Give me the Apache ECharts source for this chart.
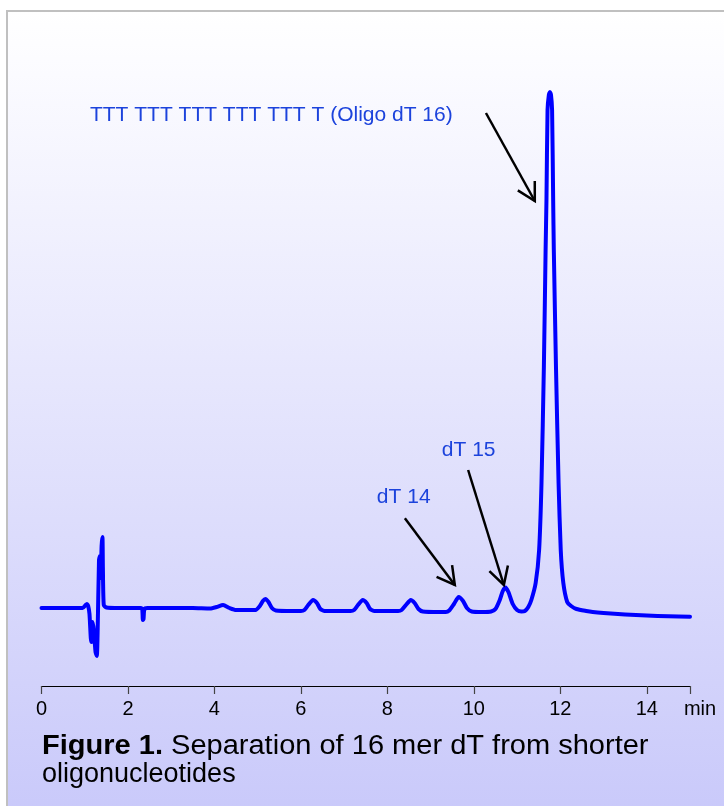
<!DOCTYPE html>
<html>
<head>
<meta charset="utf-8">
<script src="https://cdn.jsdelivr.net/npm/echarts@6/dist/echarts.min.js"></script>
<style>
html,body{margin:0;padding:0;background:#fff;}
#c{width:724px;height:806px;}
</style>
</head>
<body>
<div id="c"></div>
<script>
// Chromatogram trace: [time (min), detector signal (arbitrary units)]
var trace = [
  [0.0, 0], [0.5, 0], [0.95, 0], [1.02, 3], [1.05, 4], [1.08, 2], [1.11, -6],
  [1.14, -30], [1.16, -34], [1.18, -14], [1.21, -22], [1.25, -44], [1.28, -48],
  [1.30, -20], [1.33, 48], [1.35, 52], [1.37, 30], [1.39, 62], [1.41, 71],
  [1.42, 40], [1.44, 3], [1.5, 0.5], [1.8, 0], [2.3, 0], [2.33, -1], [2.345, -12],
  [2.36, -11], [2.38, -1], [2.45, 0], [3.0, 0], [3.5, 0], [3.9, -0.5], [4.05, 1],
  [4.2, 3], [4.35, 0], [4.5, -2], [4.9, -2],
  [4.95, -2], [5.05, 2], [5.12, 7], [5.18, 9], [5.25, 6], [5.33, 0], [5.42, -2.5],
  [5.8, -3], [6.0, -3],
  [6.08, -2], [6.17, 3], [6.28, 8], [6.37, 5], [6.45, -1], [6.55, -3], [7.0, -3], [7.15, -3],
  [7.23, -2], [7.32, 3], [7.43, 8], [7.52, 5], [7.6, -1], [7.7, -3], [8.1, -3], [8.25, -3],
  [8.33, -2], [8.43, 3], [8.54, 8], [8.63, 5], [8.72, -1], [8.82, -3.5], [9.2, -4], [9.35, -4],
  [9.43, -2.5], [9.54, 4], [9.65, 11], [9.75, 7], [9.84, 0], [9.95, -3.5], [10.2, -4], [10.4, -3.5],
  [10.5, -1], [10.6, 8], [10.67, 17], [10.73, 20.5], [10.8, 16], [10.9, 4], [11.0, -2],
  [11.1, -3.5], [11.18, -3], [11.26, 1],
  [11.33, 8], [11.43, 25], [11.51, 58], [11.565, 125], [11.62, 241], [11.66, 358],
  [11.68, 408], [11.705, 498], [11.735, 513], [11.76, 516], [11.785, 513], [11.81, 498],
  [11.835, 408], [11.85, 358], [11.90, 241], [11.96, 125], [12.01, 58], [12.07, 25],
  [12.16, 6], [12.25, 2], [12.375, -1], [12.6, -3], [12.75, -4], [13.0, -5],
  [13.5, -6.5], [14.0, -7.5], [14.5, -8.3], [15.0, -8.8]
];

// x axis ticks (min)
var xTicks = [0, 2, 4, 6, 8, 10, 12, 14];
var xUnit = 'min';

// Peak annotations: label, label anchor [t, v], arrow start [t, v], arrow tip [t, v]
var annoLabels = ['TTT TTT TTT TTT TTT T (Oligo dT 16)', 'dT 14', 'dT 15'];
var annoLabelPos = [[1.12, 493], [7.757, 111], [9.26, 158]];
var annoArrowFrom = [[10.28, 495], [8.405, 89.7], [9.868, 138]];
var annoArrowTo = [[11.41, 407], [9.56, 23], [10.694, 23]];

var captionBold = 'Figure 1.';
var captionRest = ' Separation of 16 mer dT from shorter';
var captionLine2 = 'oligonucleotides';

var FONT = '"Liberation Sans", Arial, Helvetica, sans-serif';

var chart = echarts.init(document.getElementById('c'), null, {renderer: 'canvas'});

var option = {
  backgroundColor: '#ffffff',
  animation: false,
  grid: {left: 41.5, right: 34, top: 30, bottom: 120, containLabel: false},
  xAxis: {
    type: 'value', min: 0, max: 15, interval: 1,
    axisLine: {show: true, onZero: false, lineStyle: {color: '#000', width: 1.2}},
    axisTick: {show: true, inside: false, length: 8, lineStyle: {color: '#444', width: 1.2},
      customValues: xTicks.concat([15])},
    axisLabel: {
      show: true, margin: 13, fontSize: 20, color: '#000', fontFamily: FONT,
      customValues: xTicks.concat([15]),
      formatter: function (v) { return v === 15 ? '{m|' + xUnit + '}' : String(v); },
      rich: {m: {fontSize: 20, fontFamily: FONT, color: '#000', padding: [0, 0, 0, 20]}}
    },
    splitLine: {show: false}
  },
  yAxis: {
    type: 'value', min: -78, max: 578, show: false,
    splitLine: {show: false}
  },
  series: [{
    type: 'line',
    data: trace,
    showSymbol: false,
    smooth: 0.2,
    lineStyle: {color: '#0000ff', width: 4, cap: 'round', join: 'round'},
    z: 3
  }]
};
chart.setOption(option);

function buildGraphics() {
  var g = [];
  g.push({
    type: 'rect', z: -10, silent: true,
    shape: {x: 7, y: 11, width: 760, height: 820},
    style: {
      fill: new echarts.graphic.LinearGradient(0, 0, 0, 1, [
        {offset: 0, color: '#ffffff'},
        {offset: 0.06, color: '#fcfcff'},
        {offset: 1, color: '#c8c8fa'}
      ]),
      stroke: '#c0c0c0', lineWidth: 2
    }
  });
  var L = 20, ang = 29 * Math.PI / 180;
  for (var i = 0; i < annoLabels.length; i++) {
    var lp = chart.convertToPixel({gridIndex: 0}, annoLabelPos[i]);
    var a = chart.convertToPixel({gridIndex: 0}, annoArrowFrom[i]);
    var b = chart.convertToPixel({gridIndex: 0}, annoArrowTo[i]);
    g.push({
      type: 'text', z: 10, x: lp[0], y: lp[1],
      style: {text: annoLabels[i], fill: '#1c43dc', fontSize: 21, fontFamily: FONT,
        align: 'left', verticalAlign: 'middle'}
    });
    var dx = a[0] - b[0], dy = a[1] - b[1];
    var len = Math.sqrt(dx * dx + dy * dy);
    var ux = dx / len, uy = dy / len;
    var r1 = [b[0] + L * (ux * Math.cos(ang) - uy * Math.sin(ang)), b[1] + L * (ux * Math.sin(ang) + uy * Math.cos(ang))];
    var r2 = [b[0] + L * (ux * Math.cos(-ang) - uy * Math.sin(-ang)), b[1] + L * (ux * Math.sin(-ang) + uy * Math.cos(-ang))];
    g.push({
      type: 'polyline', z: 10, shape: {points: [a, b]},
      style: {stroke: '#000', lineWidth: 2.5, fill: null}
    });
    g.push({
      type: 'polyline', z: 10, shape: {points: [r1, b, r2]},
      style: {stroke: '#000', lineWidth: 2.5, fill: null, lineJoin: 'miter'}
    });
  }
  g.push({
    type: 'text', z: 10, x: 42, y: 747, scaleX: 1.075,
    style: {
      text: '{b|' + captionBold + '}{r|' + captionRest + '}',
      verticalAlign: 'middle', align: 'left',
      rich: {
        b: {fontSize: 27, fontWeight: 'bold', fontFamily: FONT, fill: '#000', color: '#000'},
        r: {fontSize: 27, fontFamily: FONT, fill: '#000', color: '#000'}
      }
    }
  });
  g.push({
    type: 'text', z: 10, x: 42, y: 775,
    style: {text: captionLine2, fontSize: 27, fontFamily: FONT, fill: '#000',
      align: 'left', verticalAlign: 'middle'}
  });
  chart.setOption({graphic: g});
}
buildGraphics();
</script>
</body>
</html>
